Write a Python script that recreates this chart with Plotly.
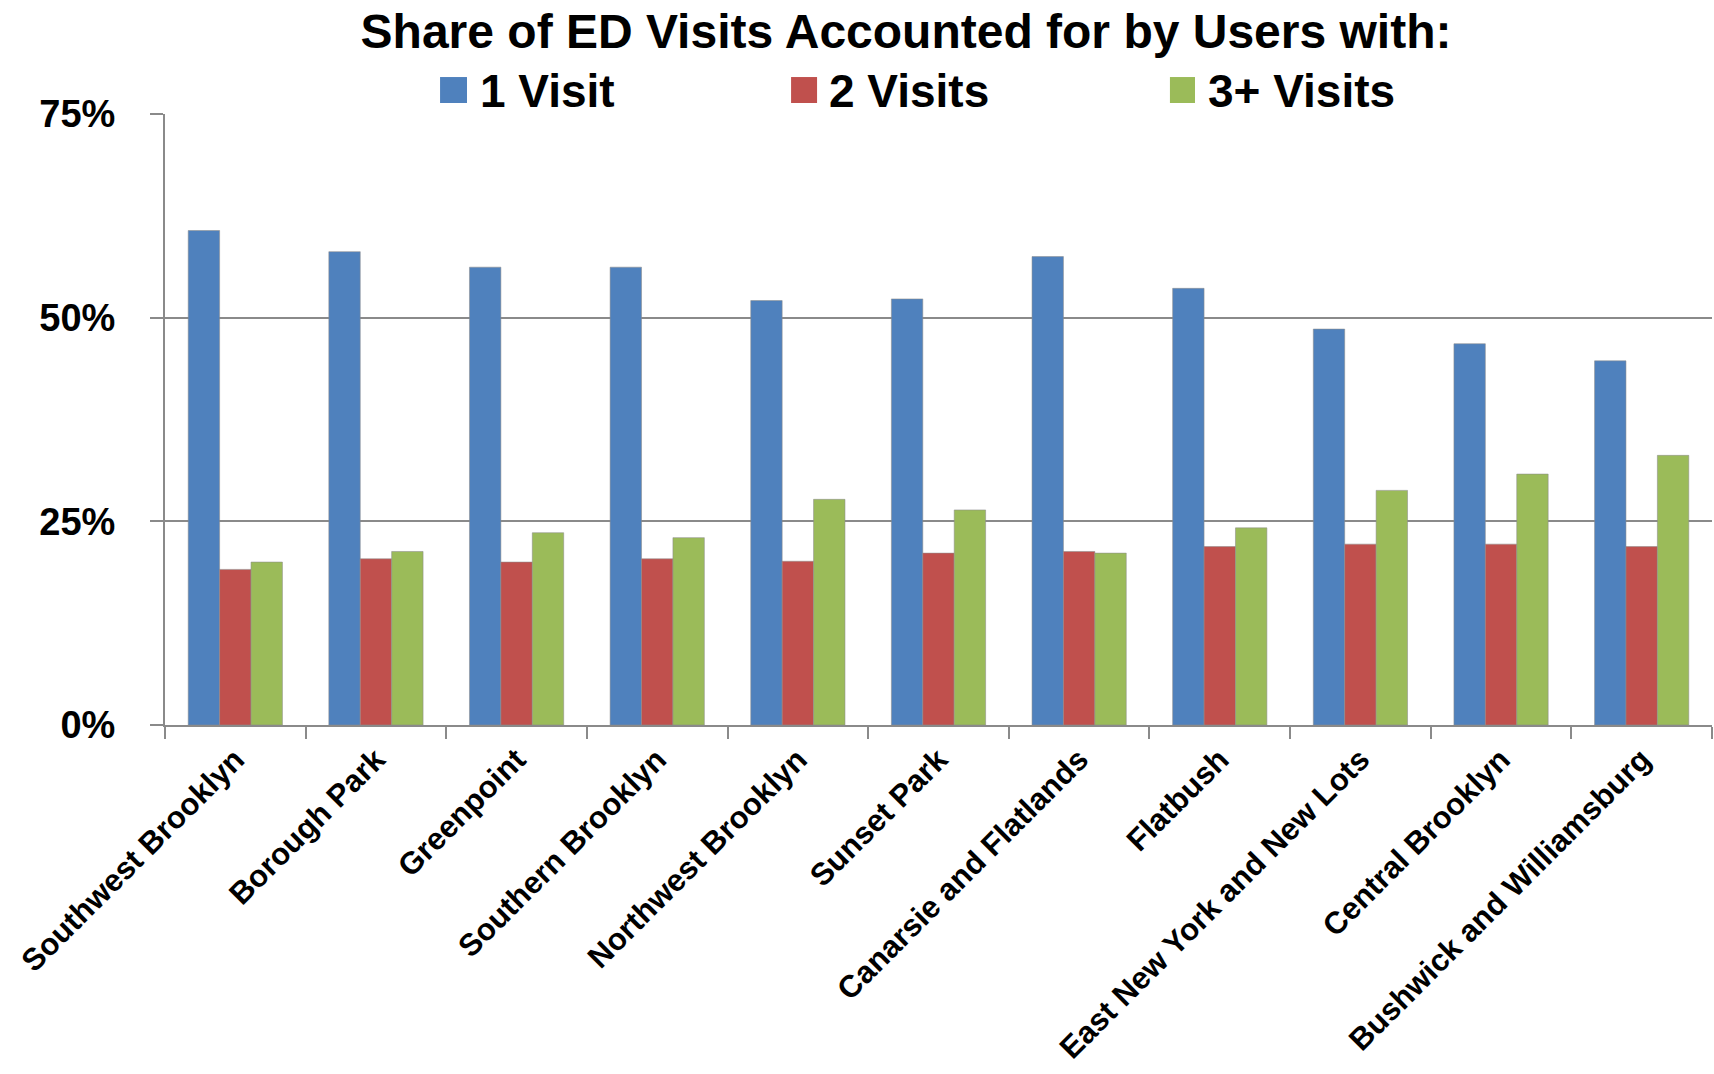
import plotly.graph_objects as go

# Brooklyn neighborhoods, ordered as on the axis
neighborhoods = [
    "Southwest Brooklyn", "Borough Park", "Greenpoint", "Southern Brooklyn",
    "Northwest Brooklyn", "Sunset Park", "Canarsie and Flatlands", "Flatbush",
    "East New York and New Lots", "Central Brooklyn", "Bushwick and Williamsburg",
]

# Share of ED visits (%) by users with 1, 2 and 3+ visits
one_visit = [60.7, 58.1, 56.2, 56.2, 52.1, 52.3, 57.5, 53.6, 48.6, 46.8, 44.7]
two_visits = [19.1, 20.4, 20.0, 20.4, 20.1, 21.1, 21.3, 21.9, 22.2, 22.2, 21.9]
three_plus_visits = [20.0, 21.3, 23.6, 23.0, 27.7, 26.4, 21.1, 24.2, 28.8, 30.8, 33.1]

series_names = ["1 Visit", "2 Visits", "3+ Visits"]
series_values = [one_visit, two_visits, three_plus_visits]
series_colors = ["#4F81BD", "#C0504D", "#9BBB59"]

y_ticks = [0, 25, 50, 75]
y_tick_labels = ["0%", "25%", "50%", "75%"]

FONT = "Arial, 'Liberation Sans', sans-serif"
AXIS_GRAY = "#8A8A8A"

fig = go.Figure()
for name, vals, color in zip(series_names, series_values, series_colors):
    fig.add_trace(go.Bar(
        x=neighborhoods, y=vals, name=name,
        marker=dict(color=color, line=dict(color="rgba(140,140,140,0.55)", width=1)),
        showlegend=False,
    ))

# Legend row drawn as colored squares with labels above the plot area
legend_square_x = [(0.1778, 0.1952), (0.4047, 0.4215), (0.6496, 0.6658)]
legend_text_x = [0.2023, 0.4279, 0.6729]
for name, color, (x0, x1), tx in zip(series_names, series_colors, legend_square_x, legend_text_x):
    fig.add_shape(type="rect", xref="paper", yref="paper",
                  x0=x0, x1=x1, y0=1.018, y1=1.0605,
                  fillcolor=color, line=dict(width=0))
    fig.add_annotation(xref="paper", yref="paper", x=tx, y=1.0376,
                       xanchor="left", yanchor="middle", showarrow=False,
                       text=f"<b>{name}</b>",
                       font=dict(family=FONT, size=46, color="black"))

fig.update_layout(
    width=1714, height=1074,
    margin=dict(l=165, r=2, t=114, b=349),
    paper_bgcolor="white", plot_bgcolor="white",
    barmode="group", bargap=0.33, bargroupgap=0.0,
    title=dict(
        text="<b>Share of ED Visits Accounted for by Users with:</b>",
        font=dict(family=FONT, size=48, color="black"),
        x=0.5286, xref="container", xanchor="center",
        y=0.971, yref="container", yanchor="middle",
    ),
    showlegend=False,
)

fig.update_xaxes(
    type="category", tickangle=-45, automargin=False,
    ticks="outside", tickson="boundaries", ticklen=12,
    tickcolor=AXIS_GRAY, tickwidth=1.5,
    showline=True, linecolor=AXIS_GRAY, linewidth=2,
    showgrid=False,
    ticklabelstandoff=2,
    tickfont=dict(family=FONT, size=31, color="black"),
    tickprefix="<b>", ticksuffix="</b>",
)

fig.update_yaxes(
    range=[0, 75], tickvals=y_ticks, ticktext=[f"<b>{t}</b>" for t in y_tick_labels],
    automargin=False,
    ticks="outside", ticklen=13, tickcolor=AXIS_GRAY, tickwidth=1.5,
    showline=True, linecolor=AXIS_GRAY, linewidth=2,
    showgrid=True, gridcolor=AXIS_GRAY, gridwidth=1.5,
    zeroline=False,
    ticklabelstandoff=27,
    tickfont=dict(family=FONT, size=38, color="black"),
)

fig.write_html("out.html")
